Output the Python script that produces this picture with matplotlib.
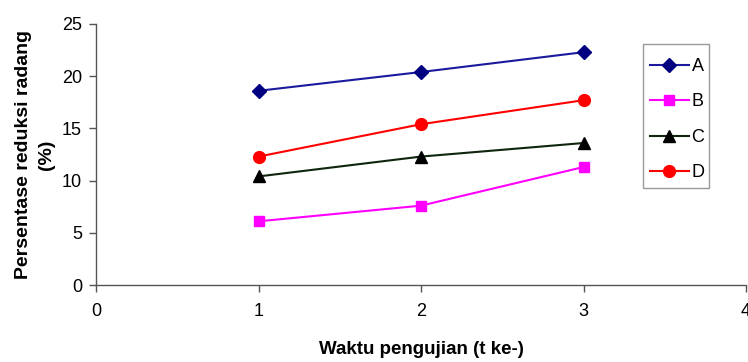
import matplotlib
matplotlib.use("Agg")
import matplotlib.pyplot as plt
from matplotlib.patches import Rectangle

plt.rcParams['font.family'] = ['Liberation Sans', 'DejaVu Sans']

x = [1, 2, 3]
series_names = ['A', 'B', 'C', 'D']
A = [18.6, 20.4, 22.3]
B = [6.1, 7.6, 11.3]
C = [10.4, 12.3, 13.6]
D = [12.3, 15.4, 17.7]
xticks = [0, 1, 2, 3, 4]
yticks = [0, 5, 10, 15, 20, 25]

fig = plt.figure(figsize=(7.48, 3.62), dpi=100)
ax = fig.add_axes([96/748, 1-285/362, 650/748, 261/362])

styles = [
    dict(color='#1a1a9c', marker='D', mfc='#000080', mec='#000080', ms=7.5),
    dict(color='#ff00ff', marker='s', mfc='#ff00ff', mec='#ff00ff', ms=7.5),
    dict(color='#0d260d', marker='^', mfc='black', mec='black', ms=8.5),
    dict(color='#ff0000', marker='o', mfc='#ff0000', mec='#ff0000', ms=8.5),
]
for name, vals, st in zip(series_names, [A, B, C, D], styles):
    ax.plot(x, vals, lw=1.5, label=name, **st)

ax.set_xlim(0, 4)
ax.set_ylim(0, 25)
ax.set_xticks(xticks)
ax.set_yticks(yticks)
ax.spines['top'].set_visible(False)
ax.spines['right'].set_visible(False)
for s in ['left', 'bottom']:
    ax.spines[s].set_color('#555555')
    ax.spines[s].set_linewidth(1.0)
ax.tick_params(direction='out', length=5, width=1, colors='#555555', labelcolor='black', labelsize=13)
ax.tick_params(axis='x', pad=8)
ax.tick_params(axis='y', pad=5)

ax.set_xlabel('Waktu pengujian (t ke-)', fontsize=13.5, fontweight='bold', labelpad=15)
ax.set_ylabel('Persentase reduksi radang\n(%)', fontsize=14, fontweight='bold', labelpad=5, linespacing=1.45)

leg = ax.legend(loc='upper left', bbox_to_anchor=(650/748, 1-58/362), bbox_transform=fig.transFigure,
                frameon=False, fontsize=13, handlelength=2.15, handletextpad=0.15,
                labelspacing=1.02, borderpad=0, borderaxespad=0)
fig.patches.append(Rectangle((643/748, 1-188/362), 66/748, 144/362, transform=fig.transFigure,
                             fill=False, edgecolor='#999999', linewidth=1.0))

fig.savefig('out.png', dpi=100)
